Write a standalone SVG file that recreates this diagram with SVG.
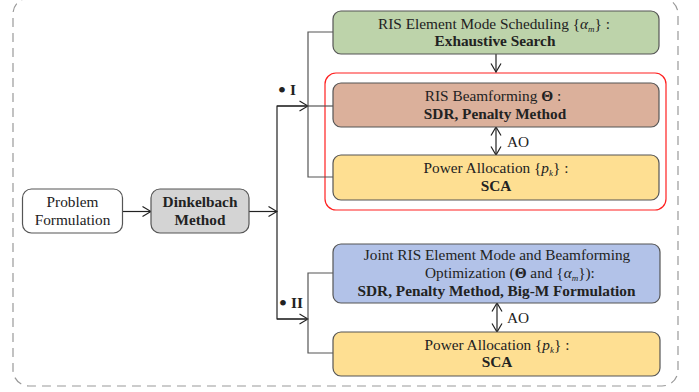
<svg xmlns="http://www.w3.org/2000/svg" width="699" height="392" viewBox="0 0 699 392">
<defs>
<marker id="arr" viewBox="0 0 10 12" refX="9.5" refY="6" markerWidth="10" markerHeight="12" markerUnits="userSpaceOnUse" orient="auto-start-reverse">
<path d="M1,1 L9.5,6 L1,11" fill="none" stroke="#222" stroke-width="1.2"/>
</marker>
<style>
.t{font-family:"Liberation Serif","Times New Roman",serif;font-size:15.3px;fill:#222;text-anchor:middle}
.b{font-weight:bold}
.i{font-style:italic}
.dot{font-family:"Liberation Serif","Times New Roman",serif;font-size:24px;fill:#222;text-anchor:middle}
.box{stroke:#555;stroke-width:1.2}
.ln{fill:none;stroke:#222;stroke-width:1.2}
.br{fill:none;stroke:#555;stroke-width:1.2}
</style>
</defs>
<rect x="13" y="-2" width="665" height="388" rx="16" fill="none" stroke="#999" stroke-width="1.2" stroke-dasharray="9,6"/>
<rect x="325" y="73" width="341" height="137" rx="11" fill="none" stroke="#ff2020" stroke-width="1.2"/>

<g id="connectors">
<line class="ln" x1="123" y1="211.5" x2="151" y2="211.5" marker-end="url(#arr)"/>
<line class="ln" x1="249" y1="211.5" x2="277" y2="211.5" marker-end="url(#arr)"/>
<polyline class="ln" points="308,106 277,106 277,319 308,319"/>
<line class="ln" x1="277" y1="106" x2="308" y2="106" marker-end="url(#arr)"/>
<line class="ln" x1="277" y1="319" x2="308" y2="319" marker-end="url(#arr)"/>
<polyline class="br" points="333,32 308,32 308,177 333,177"/>
<line class="br" x1="308" y1="106" x2="333" y2="106"/>
<polyline class="br" points="333,273 308,273 308,353 333,353"/>
<line class="ln" x1="496" y1="54" x2="496" y2="72" marker-end="url(#arr)"/>
<line class="ln" x1="496" y1="127" x2="496" y2="155" marker-start="url(#arr)" marker-end="url(#arr)"/>
<line class="ln" x1="497" y1="303" x2="497" y2="332" marker-start="url(#arr)" marker-end="url(#arr)"/>
<text class="t" x="507" y="147" style="text-anchor:start">AO</text>
<text class="t" x="507" y="323" style="text-anchor:start">AO</text>
<text class="dot" x="282" y="98">•</text>
<text class="t b" x="290" y="95" style="text-anchor:start">I</text>
<text class="dot" x="283" y="311">•</text>
<text class="t b" x="291" y="308" style="text-anchor:start">II</text>
</g>

<g id="problem">
<rect class="box" x="22.5" y="189" width="100" height="44" rx="9" fill="#fff"/>
<text class="t" x="72.5" y="207">Problem</text>
<text class="t" x="72.5" y="224.5">Formulation</text>
</g>

<g id="dinkelbach">
<rect class="box" x="151" y="189" width="98" height="44" rx="9" fill="#d4d4d4"/>
<text class="t b" x="200" y="206.5">Dinkelbach</text>
<text class="t b" x="200" y="224.5">Method</text>
</g>

<g id="mode-scheduling">
<rect class="box" x="333" y="11" width="326" height="43" rx="8" fill="#bdd3aa"/>
<text class="t" x="494" y="28.5">RIS Element Mode Scheduling {<tspan class="i">α</tspan><tspan class="i" font-size="9" dy="3">m</tspan><tspan dy="-3">} :</tspan></text>
<text class="t b" x="495" y="46">Exhaustive Search</text>
</g>

<g id="beamforming">
<rect class="box" x="333" y="83" width="326" height="44" rx="8" fill="#dbb09b"/>
<text class="t" x="493" y="101">RIS Beamforming <tspan class="b">Θ</tspan> :</text>
<text class="t b" x="495" y="118.5">SDR, Penalty Method</text>
</g>

<g id="power1">
<rect class="box" x="333" y="155" width="326" height="45" rx="8" fill="#fedf92"/>
<text class="t" x="496" y="173">Power Allocation {<tspan class="i">p</tspan><tspan class="i" font-size="9" dy="3">k</tspan><tspan dy="-3">} :</tspan></text>
<text class="t b" x="496" y="190.5">SCA</text>
</g>

<g id="joint">
<rect class="box" x="333" y="244" width="327" height="59" rx="8" fill="#b2c2e8"/>
<text class="t" x="497" y="259.5">Joint RIS Element Mode and Beamforming</text>
<text class="t" x="425" y="278" style="text-anchor:start">Optimization (<tspan class="b">Θ</tspan> and {<tspan class="i">α</tspan><tspan class="i" font-size="9" dy="3">m</tspan><tspan dy="-3">}):</tspan></text>
<text class="t b" x="496.5" y="295.5">SDR, Penalty Method, Big-M Formulation</text>
</g>

<g id="power2">
<rect class="box" x="333" y="332" width="327" height="44" rx="8" fill="#fedf92"/>
<text class="t" x="497" y="349.5">Power Allocation {<tspan class="i">p</tspan><tspan class="i" font-size="9" dy="3">k</tspan><tspan dy="-3">} :</tspan></text>
<text class="t b" x="497" y="367">SCA</text>
</g>
</svg>
